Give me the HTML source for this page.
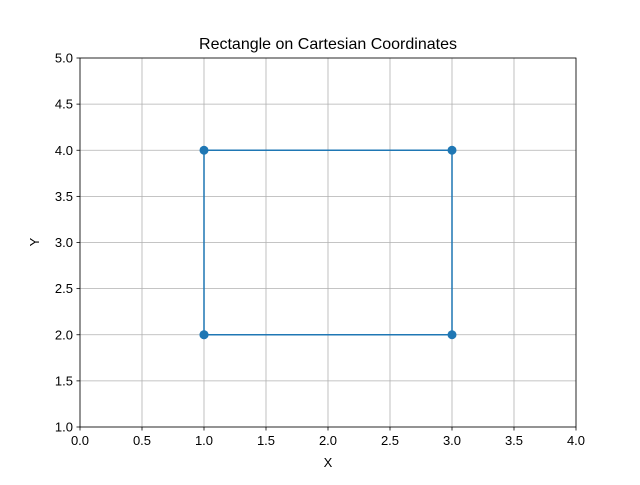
<!DOCTYPE html>
<html><head><meta charset="utf-8"><style>
body{margin:0;background:#fff;}
svg text{font-family:"Liberation Sans","DejaVu Sans",sans-serif;fill:#000;}
</style></head><body>
<svg id="chart" width="640" height="480" xmlns="http://www.w3.org/2000/svg">
<rect width="640" height="480" fill="#fff"/>
<g id="grid"></g>
<g id="ticks"></g>
<g id="series"></g>
<rect x="80" y="58" width="496" height="369" fill="none" stroke="#000" stroke-width="0.8"/>
<text x="328" y="49" font-size="16" text-anchor="middle">Rectangle on Cartesian Coordinates</text>
<text x="328" y="467" font-size="13" text-anchor="middle">X</text>
<text x="39" y="242" font-size="13" text-anchor="middle" transform="rotate(-90 39 242)">Y</text>
</svg>
<script>
const xTicks=[0,0.5,1,1.5,2,2.5,3,3.5,4];
const yTicks=[1,1.5,2,2.5,3,3.5,4,4.5,5];
const xValues=[1,3,3,1,1];
const yValues=[2,2,4,4,2];
const NS="http://www.w3.org/2000/svg";
const L=80,R=576,T=58,B=427;
const sx=v=>L+(v-0)/(4-0)*(R-L);
const sy=v=>B-(v-1)/(5-1)*(B-T);
function mk(tag,attrs,parent){const e=document.createElementNS(NS,tag);for(const k in attrs)e.setAttribute(k,attrs[k]);parent.appendChild(e);return e;}
const grid=document.getElementById('grid'),ticks=document.getElementById('ticks'),series=document.getElementById('series');
xTicks.forEach(v=>{
 const x=sx(v);
 const g=mk('line',{x1:x,x2:x,y1:T,y2:B,stroke:'#b0b0b0','stroke-width':0.8},grid);
 
 
 const t=mk('line',{x1:x,x2:x,y1:B,y2:B+3.5,stroke:'#000','stroke-width':0.8},ticks);
 
 
 const l=mk('text',{x:x,y:B+18,'font-size':13,'text-anchor':'middle'},ticks);
 l.textContent=v.toFixed(1);
 
 
});
yTicks.forEach(v=>{
 const y=sy(v);
 const g=mk('line',{x1:L,x2:R,y1:y,y2:y,stroke:'#b0b0b0','stroke-width':0.8},grid);
 
 
 const t=mk('line',{x1:L-3.5,x2:L,y1:y,y2:y,stroke:'#000','stroke-width':0.8},ticks);
 
 
 const l=mk('text',{x:L-7,y:y+4.5,'font-size':13,'text-anchor':'end'},ticks);
 l.textContent=v.toFixed(1);
 
 
});
const pts=xValues.map((x,i)=>sx(x)+','+sy(yValues[i])).join(' ');
const pl=mk('polyline',{points:pts,fill:'none',stroke:'#1f77b4','stroke-width':1.5},series);


xValues.forEach((x,i)=>{
 const c=mk('circle',{cx:sx(x),cy:sy(yValues[i]),r:4.5,fill:'#1f77b4'},series);
 
 
});
</script>
</body></html>
